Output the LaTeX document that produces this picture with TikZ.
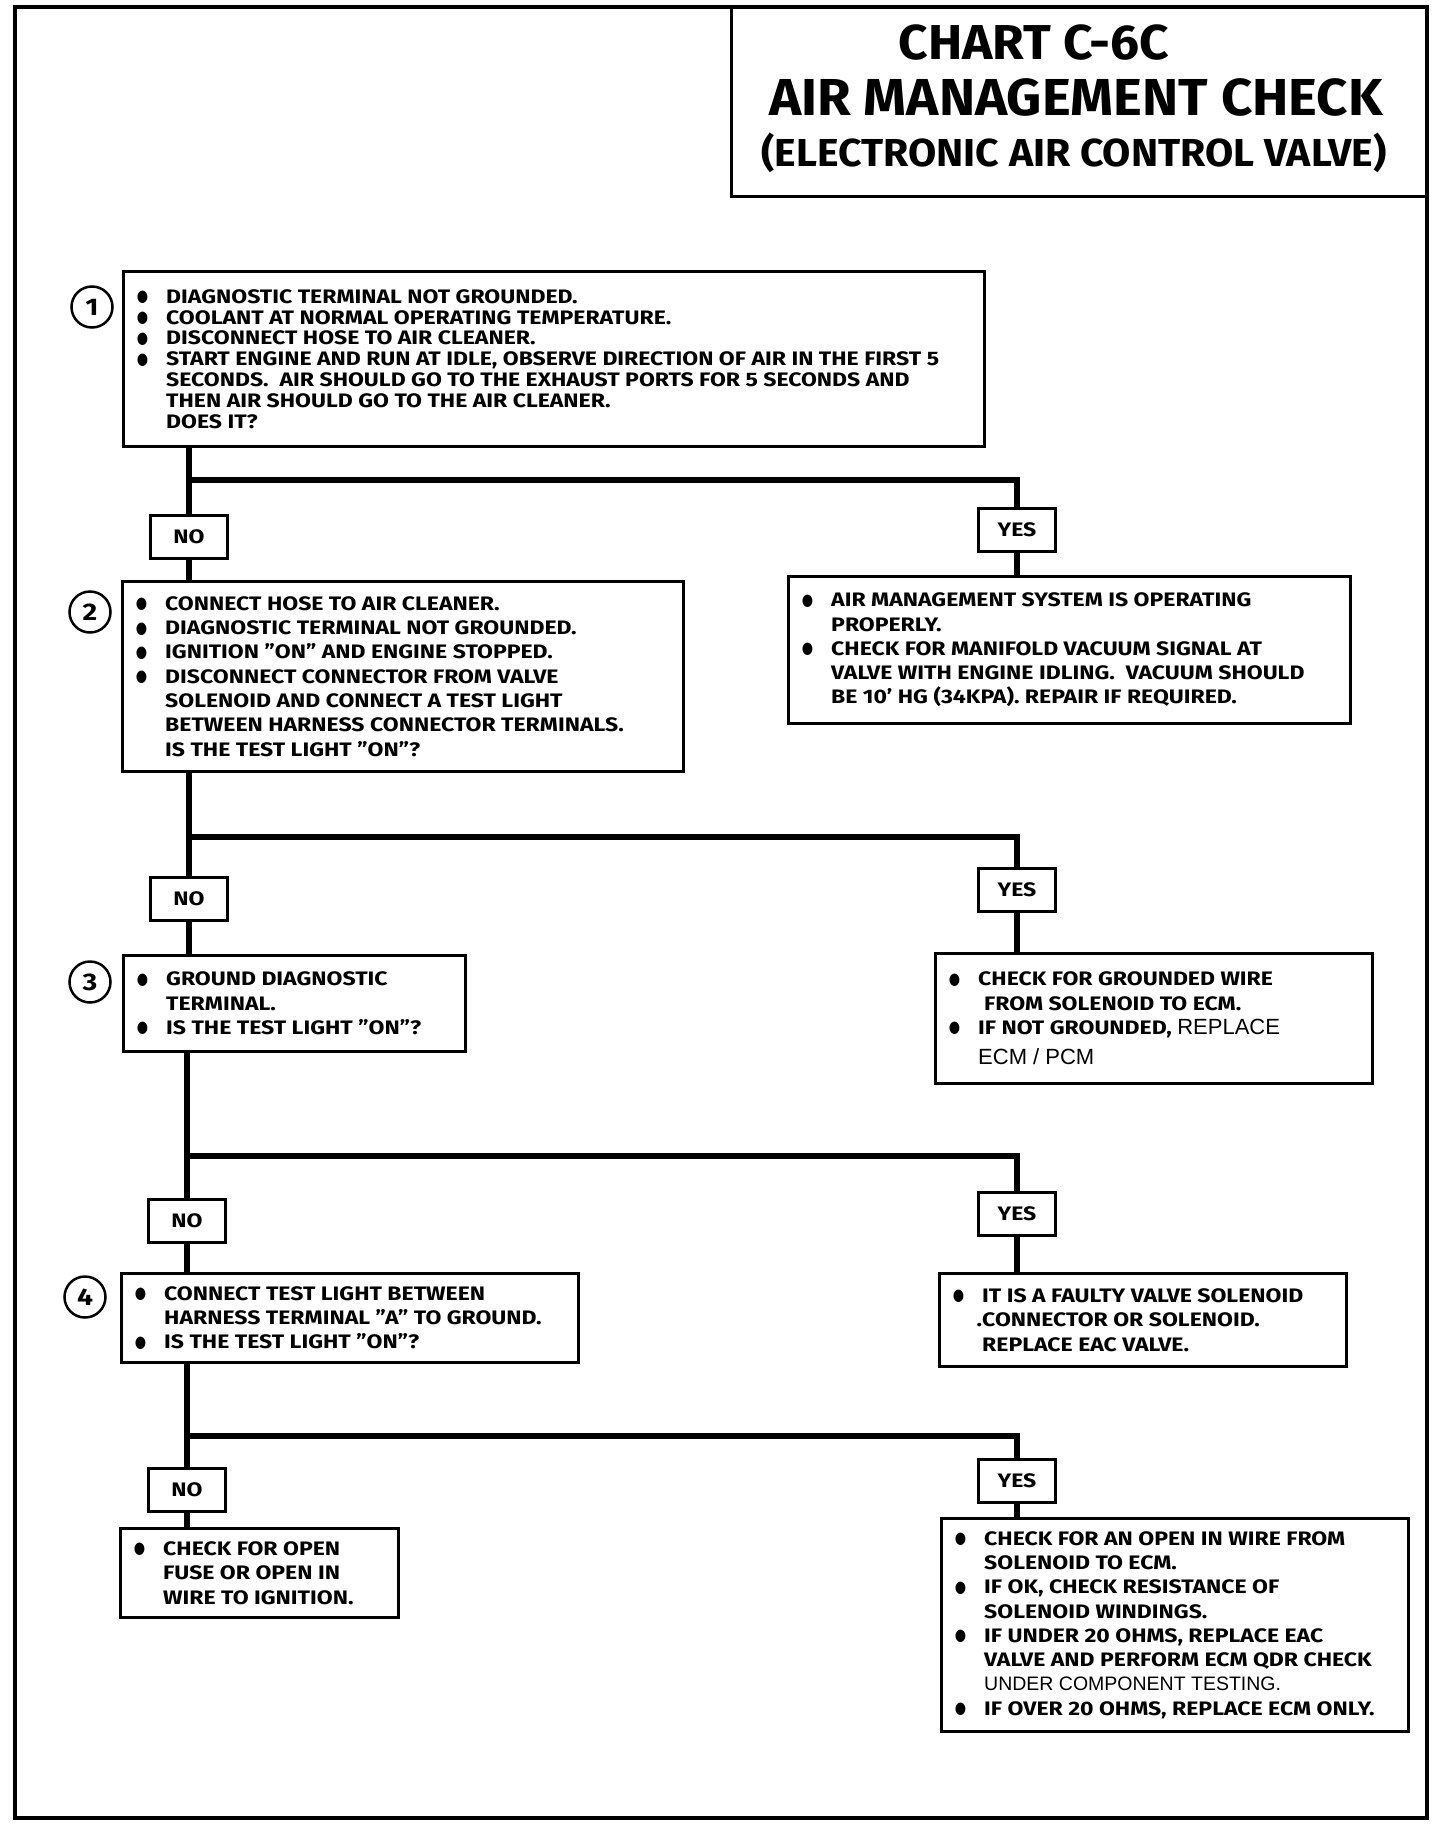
\documentclass[tikz,border=0pt]{standalone}
\usepackage{fontspec}
\setmainfont[FakeStretch=1.18]{Fira Sans}
\newfontfamily\titlefont[FakeStretch=1.05]{Fira Sans}
\newfontfamily\lightfont{Liberation Sans}
\newfontfamily\symfont{DejaVu Sans}
\usetikzlibrary{positioning, calc}
\newcommand\bul{\llap{\raisebox{1.5pt}{\scalebox{1}[1.25]{\symfont\fontsize{13}{13}\selectfont ●}}\hspace{18pt}}}

\begin{document}
\begin{tikzpicture}[x=1pt, y=-1pt,
    chk/.style={draw, line width=3pt, anchor=north west, inner sep=0pt},
    txt/.style={anchor=west, align=left, inner sep=0pt, font=\fontsize{19.5}{24.3}\selectfont\bfseries},
    tag/.style={draw, fill=white, line width=3pt, minimum width=77pt, minimum height=43pt, inner sep=0pt, font=\fontsize{19.5}{20}\selectfont\bfseries},
    num/.style={draw, circle, line width=2.5pt, minimum size=41pt, inner sep=0pt, font=\fontsize{24}{24}\selectfont\bfseries},
    wire/.style={line width=6pt}
]
    \useasboundingbox (0,0) rectangle (1440,1838);
    \draw[line width=4.5pt] (15,7) rectangle (1427,1818);
    \draw[line width=3pt] (731,7) rectangle (1427,197);

    \node[font=\titlefont\fontsize{49}{49}\selectfont\bfseries] (t1) at (1034,43) {CHART C-6C};
    \node[font=\titlefont\fontsize{52}{52}\selectfont\bfseries] (t2) at (1076,97) {AIR MANAGEMENT CHECK};
    \node[font=\titlefont\fontsize{39}{39}\selectfont\bfseries] (t3) at (1074,153) {(ELECTRONIC AIR CONTROL VALVE)};

    \node[chk, minimum width=861pt, minimum height=175pt] (q1) at (122,270) {};
    \node[chk, minimum width=561pt, minimum height=190pt] (q2) at (121,580) {};
    \node[chk, minimum width=342pt, minimum height=96pt] (q3) at (122,954) {};
    \node[chk, minimum width=457pt, minimum height=89pt] (q4) at (120,1272) {};
    \node[chk, minimum width=278pt, minimum height=89pt] (q5) at (119,1527) {};
    \node[chk, minimum width=562pt, minimum height=147pt] (a1) at (787,575) {};
    \node[chk, minimum width=437pt, minimum height=130pt] (a2) at (934,952) {};
    \node[chk, minimum width=407pt, minimum height=93pt] (a3) at (938,1272) {};
    \node[chk, minimum width=467pt, minimum height=213pt] (a4) at (940,1517) {};

    \node[num] (c1) at (92,307) {1};
    \node[num] (c2) at (90,612) {2};
    \node[num] (c3) at (90,982) {3};
    \node[num] (c4) at (85,1297) {4};

    \node[txt, font=\fontsize{19.5}{20.8}\selectfont\bfseries] (q1t) at ([xshift=44pt]q1.west) {\bul DIAGNOSTIC TERMINAL NOT GROUNDED.\\
        \bul COOLANT AT NORMAL OPERATING TEMPERATURE.\\
        \bul DISCONNECT HOSE TO AIR CLEANER.\\
        \bul START ENGINE AND RUN AT IDLE, OBSERVE DIRECTION OF AIR IN THE FIRST 5\\
        SECONDS.\ \ AIR SHOULD GO TO THE EXHAUST PORTS FOR 5 SECONDS AND\\
        THEN AIR SHOULD GO TO THE AIR CLEANER.\\
        DOES IT?};
    \node[txt] (q2t) at ([xshift=44pt]q2.west) {\bul CONNECT HOSE TO AIR CLEANER.\\
        \bul DIAGNOSTIC TERMINAL NOT GROUNDED.\\
        \bul IGNITION "ON" AND ENGINE STOPPED.\\
        \bul DISCONNECT CONNECTOR FROM VALVE\\
        SOLENOID AND CONNECT A TEST LIGHT\\
        BETWEEN HARNESS CONNECTOR TERMINALS.\\
        IS THE TEST LIGHT "ON"?};
    \node[txt] (q3t) at ([xshift=44pt]q3.west) {\bul GROUND DIAGNOSTIC\\
        TERMINAL.\\
        \bul IS THE TEST LIGHT "ON"?};
    \node[txt] (q4t) at ([xshift=44pt]q4.west) {\bul CONNECT TEST LIGHT BETWEEN\\
        HARNESS TERMINAL "A" TO GROUND.\\
        \bul IS THE TEST LIGHT "ON"?};
    \node[txt] (q5t) at ([xshift=44pt]q5.west) {\bul CHECK FOR OPEN\\
        FUSE OR OPEN IN\\
        WIRE TO IGNITION.};
    \node[txt] (a1t) at ([xshift=44pt]a1.west) {\bul AIR MANAGEMENT SYSTEM IS OPERATING\\
        PROPERLY.\\
        \bul CHECK FOR MANIFOLD VACUUM SIGNAL AT\\
        VALVE WITH ENGINE IDLING.\ \ VACUUM SHOULD\\
        BE 10' HG (34KPA). REPAIR IF REQUIRED.};
    \node[txt] (a2t) at ([xshift=44pt]a2.west) {\bul CHECK FOR GROUNDED WIRE\\
        \hspace{6pt}FROM SOLENOID TO ECM.\\
        \bul IF NOT GROUNDED, {\lightfont\mdseries\fontsize{22}{24}\selectfont REPLACE}\\[6pt]
        {\lightfont\mdseries\fontsize{22}{24}\selectfont ECM / PCM}};
    \node[txt] (a3t) at ([xshift=44pt]a3.west) {\bul IT IS A FAULTY VALVE SOLENOID\\
        \llap{.}CONNECTOR OR SOLENOID.\\
        REPLACE EAC VALVE.};
    \node[txt] (a4t) at ([xshift=44pt]a4.west) {\bul CHECK FOR AN OPEN IN WIRE FROM\\
        SOLENOID TO ECM.\\
        \bul IF OK, CHECK RESISTANCE OF\\
        SOLENOID WINDINGS.\\
        \bul IF UNDER 20 OHMS, REPLACE EAC\\
        VALVE AND PERFORM ECM QDR CHECK\\
        {\lightfont\mdseries UNDER COMPONENT TESTING.}\\
        \bul IF OVER 20 OHMS, REPLACE ECM ONLY.};

    \node[tag] (no1) at (189,537) {NO};
    \node[tag] (no2) at (189,899) {NO};
    \node[tag] (no3) at (187,1221) {NO};
    \node[tag] (no4) at (187,1490) {NO};
    \node[tag] (yes1) at (1017,530) {YES};
    \node[tag] (yes2) at (1017,890) {YES};
    \node[tag] (yes3) at (1017,1214) {YES};
    \node[tag] (yes4) at (1017,1481) {YES};

    \coordinate (k1) at (1017,480);
    \coordinate (k2) at (1017,837);
    \coordinate (k3) at (1017,1156);
    \coordinate (k4) at (1017,1436);

    \draw[wire] (q1.south -| no1) -- (no1);
    \draw[wire] (no1) -- (q2.north -| no1);
    \draw[wire] (q2.south -| no2) -- (no2);
    \draw[wire] (no2) -- (q3.north -| no2);
    \draw[wire] (q3.south -| no3) -- (no3);
    \draw[wire] (no3) -- (q4.north -| no3);
    \draw[wire] (q4.south -| no4) -- (no4);
    \draw[wire] (no4) -- (q5.north -| no4);

    \draw[wire] (no1 |- k1) -- (k1) -- (yes1);
    \draw[wire] (yes1) -- (a1.north -| yes1);
    \draw[wire] (no2 |- k2) -- (k2) -- (yes2);
    \draw[wire] (yes2) -- (a2.north -| yes2);
    \draw[wire] (no3 |- k3) -- (k3) -- (yes3);
    \draw[wire] (yes3) -- (a3.north -| yes3);
    \draw[wire] (no4 |- k4) -- (k4) -- (yes4);
    \draw[wire] (yes4) -- (a4.north -| yes4);
\end{tikzpicture}
\end{document}
